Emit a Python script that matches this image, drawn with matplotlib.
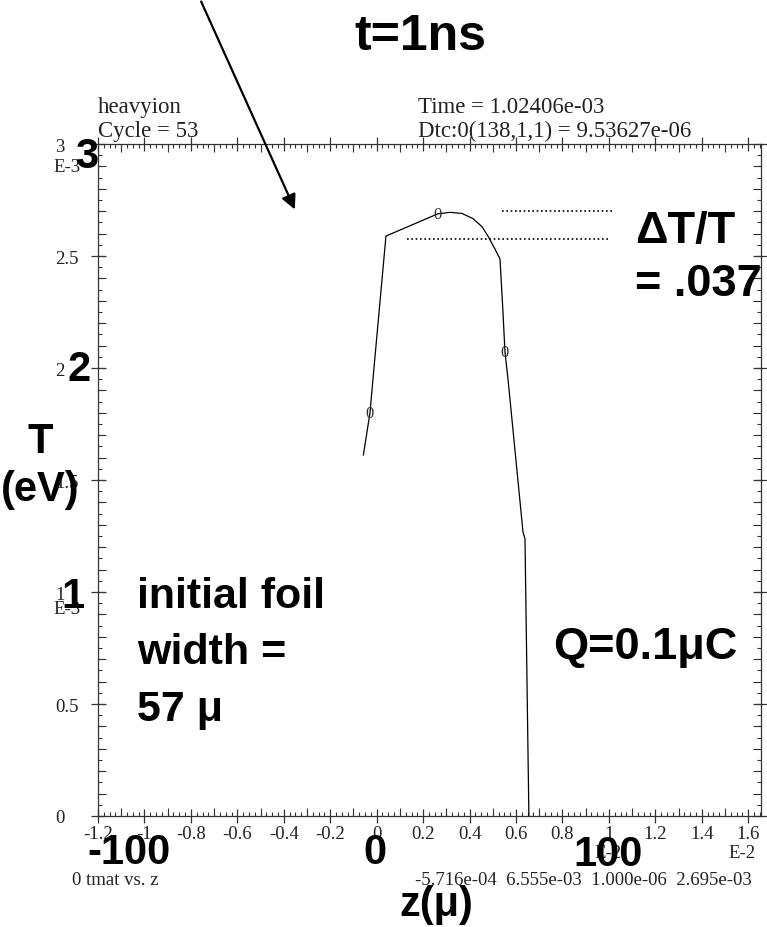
import numpy as np
import matplotlib
matplotlib.use('Agg')
import matplotlib.pyplot as plt

# temperature profile, z in units of 1e-2, T in units of 1e-3
z_vals = [-0.0572, -0.0289, -0.0159, 0.0400, 0.2627, 0.3157, 0.3674, 0.4147,
          0.4535, 0.4793, 0.5095, 0.5310, 0.5439, 0.5525, 0.5655, 0.6301,
          0.6387, 0.6555]
T_vals = [1.612, 1.799, 1.951, 2.589, 2.688, 2.695, 2.690, 2.667,
          2.631, 2.589, 2.531, 2.487, 2.250, 2.071, 1.951, 1.268,
          1.237, 0.0]

# curve label "0" positions
mark_z = [-0.0289, 0.2627, 0.5525]
mark_T = [1.799, 2.688, 2.071]

# dotted guides for delta T
dot_levels = [2.701, 2.576]
dot_start = [0.540, 0.130]
dot_end = [1.018, 1.000]

xtick_vals = [-1.2, -1.0, -0.8, -0.6, -0.4, -0.2, 0.0, 0.2, 0.4, 0.6, 0.8, 1.0, 1.2, 1.4, 1.6]
xtick_labels = ['-1.2', '-1', '-0.8', '-0.6', '-0.4', '-0.2', '0', '0.2', '0.4', '0.6', '0.8', '1', '1.2', '1.4', '1.6']
ytick_vals = [0, 0.5, 1, 1.5, 2, 2.5, 3]
ytick_labels = ['0', '0.5', '1', '1.5', '2', '2.5', '3']

W, H = 767, 928
fig = plt.figure(figsize=(W / 100, H / 100), dpi=100)

def px(x, y):
    return x / W, 1 - y / H

ax = fig.add_axes([98 / W, 1 - 817 / H, (761 - 98) / W, (817 - 145) / H])
ax.set_xlim(-1.2, 1.655)
ax.set_ylim(0, 3)

serif = 'Liberation Serif'
sans = 'Liberation Sans'
axcol = '#333333'

ax.plot(z_vals, T_vals, color='black', lw=0.9)
for zx, ty in zip(mark_z, mark_T):
    ax.text(zx, ty, '0', ha='center', va='center', fontsize=12, family=serif, color='#333333')

for lev, s, e in zip(dot_levels, dot_start, dot_end):
    ax.hlines(lev, s, e, colors='black', linestyles=(0, (1, 1.6)), lw=1.2)

for sp in ax.spines.values():
    sp.set_color(axcol)
    sp.set_linewidth(0.9)

# ticks: major / medium / minor
ax.set_xticks(xtick_vals)
ax.set_xticklabels(xtick_labels, family=serif, fontsize=13.5, color='#222222')
ax.set_xticks(np.arange(-1.2, 1.66, 0.025), minor=True)
ax.set_yticks(ytick_vals)
ax.set_yticklabels(ytick_labels, family=serif, fontsize=13.5, color='#222222')
ax.set_yticks(np.arange(0, 3.01, 0.05), minor=True)
for lab in ax.get_yticklabels():
    lab.set_ha('left')

ax.tick_params(which='major', direction='inout', length=10, width=0.9, color=axcol,
               top=True, right=True)
ax.tick_params(axis='y', which='major', pad=26)
ax.tick_params(axis='x', which='major', pad=1.5)
ax.tick_params(which='minor', direction='in', length=3, width=0.8, color=axcol,
               top=True, right=True)

for side in ['bottom', 'top']:
    sx = ax.secondary_xaxis(side)
    sx.set_xticks(np.arange(-1.1, 1.65, 0.2))
    sx.tick_params(direction='in', length=6, width=0.8, color=axcol,
                   labelbottom=False, labeltop=False)
    sx.spines[side].set_visible(False)
for side in ['left', 'right']:
    sy = ax.secondary_yaxis(side)
    sy.set_yticks(np.arange(0.1, 3.0, 0.1))
    sy.tick_params(direction='in', length=6, width=0.8, color=axcol,
                   labelleft=False, labelright=False)
    sy.spines[side].set_visible(False)

# small serif annotations from the plotting package
small = dict(family=serif, color='#222222')
fig.text(*px(98, 113), 'heavyion', fontsize=16.5, va='baseline', **small)
fig.text(*px(98, 137), 'Cycle = 53', fontsize=16.5, va='baseline', **small)
fig.text(*px(418, 113), 'Time = 1.02406e-03', fontsize=16.5, va='baseline', **small)
fig.text(*px(418, 137), 'Dtc:0(138,1,1) = 9.53627e-06', fontsize=16.5, va='baseline', **small)
fig.text(*px(53, 168), 'E-3', fontsize=13.5, va='center', **small)
fig.text(*px(53, 609), 'E-3', fontsize=13.5, va='center', **small)
fig.text(*px(742, 853), 'E-2', fontsize=13.5, ha='center', va='center', **small)
fig.text(*px(608, 853), 'E-2', fontsize=13.5, ha='center', va='center', **small)
fig.text(*px(72, 881), '0 tmat vs. z', fontsize=13.5, va='center', **small)
fig.text(*px(415, 881), '-5.716e-04  6.555e-03  1.000e-06  2.695e-03', fontsize=13.5,
         va='center', **small)

# big bold labels
big = dict(family=sans, fontweight='bold', color='black')
fig.text(*px(420, 37), 't=1ns', fontsize=36, ha='center', va='center', **big)
fig.text(*px(87, 157), '3', fontsize=30, ha='center', va='center', **big)
fig.text(*px(79, 370), '2', fontsize=30, ha='center', va='center', **big)
fig.text(*px(73, 597), '1', fontsize=30, ha='center', va='center', **big)
fig.text(*px(40, 442), 'T', fontsize=30, ha='center', va='center', **big)
fig.text(*px(40, 490), '(eV)', fontsize=30, ha='center', va='center', **big)
fig.text(*px(129, 853), '-100', fontsize=30, ha='center', va='center', **big)
fig.text(*px(375, 853), '0', fontsize=30, ha='center', va='center', **big)
fig.text(*px(608, 855), '100', fontsize=30, ha='center', va='center', **big)
fig.text(*px(436, 905), 'z(\u03bc)', fontsize=30, ha='center', va='center', **big)
fig.text(*px(635, 231), '\u0394T/T', fontsize=32.5, ha='left', va='center', **big)
fig.text(*px(635, 285), '= .037', fontsize=32.5, ha='left', va='center', **big)
fig.text(*px(137, 597), 'initial foil', fontsize=31, ha='left', va='center', **big)
fig.text(*px(137, 653), 'width =', fontsize=31, ha='left', va='center', **big)
fig.text(*px(137, 710), '57 \u03bc', fontsize=31, ha='left', va='center', **big)
fig.text(*px(553, 648), 'Q=0.1\u03bcC', fontsize=32.5, ha='left', va='center', **big)

# pointer arrow
ax.annotate('', xy=px(296, 213), xytext=px(200, 0), xycoords='figure fraction',
            textcoords='figure fraction', annotation_clip=False,
            arrowprops=dict(arrowstyle='-|>', lw=1.6, color='black', mutation_scale=22))

plt.savefig('out.png', dpi=100)
